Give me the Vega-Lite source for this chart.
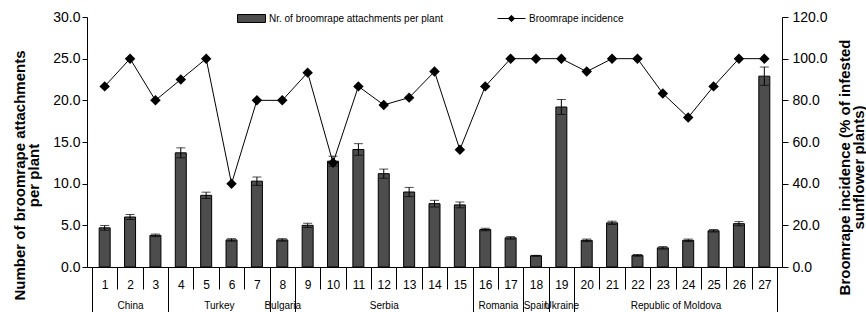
{
  "$schema": "https://vega.github.io/schema/vega-lite/v6.json",
  "width": 695,
  "height": 250,
  "autosize": {"type": "none"},
  "padding": {"left": 87, "top": 17, "right": 84, "bottom": 45},
  "background": "white",
  "config": {
    "view": {"stroke": null},
    "axis": {"grid": false, "domainColor": "black", "tickColor": "black", "labelColor": "black", "titleColor": "black", "labelFont": "Liberation Sans, Arial, sans-serif"},
    "legend": {"labelFont": "Liberation Sans, Arial, sans-serif", "labelColor": "black", "labelLimit": 0}
  },
  "data": {
    "values": [
      {"id": 1, "group": "China", "bar": 4.7, "err": 0.28, "inc": 86.7},
      {"id": 2, "group": "China", "bar": 6.0, "err": 0.3, "inc": 100},
      {"id": 3, "group": "China", "bar": 3.8, "err": 0.15, "inc": 80},
      {"id": 4, "group": "Turkey", "bar": 13.7, "err": 0.6, "inc": 90},
      {"id": 5, "group": "Turkey", "bar": 8.6, "err": 0.38, "inc": 100},
      {"id": 6, "group": "Turkey", "bar": 3.25, "err": 0.15, "inc": 40},
      {"id": 7, "group": "Turkey", "bar": 10.3, "err": 0.5, "inc": 80},
      {"id": 8, "group": "Bulgaria", "bar": 3.25, "err": 0.15, "inc": 80},
      {"id": 9, "group": "Serbia", "bar": 5.0, "err": 0.25, "inc": 93.3},
      {"id": 10, "group": "Serbia", "bar": 12.7, "err": 0.6, "inc": 50},
      {"id": 11, "group": "Serbia", "bar": 14.1, "err": 0.7, "inc": 86.7},
      {"id": 12, "group": "Serbia", "bar": 11.2, "err": 0.55, "inc": 77.8},
      {"id": 13, "group": "Serbia", "bar": 9.0, "err": 0.55, "inc": 81.3},
      {"id": 14, "group": "Serbia", "bar": 7.6, "err": 0.4, "inc": 93.8},
      {"id": 15, "group": "Serbia", "bar": 7.45, "err": 0.35, "inc": 56.3},
      {"id": 16, "group": "Romania", "bar": 4.5, "err": 0.15, "inc": 86.7},
      {"id": 17, "group": "Romania", "bar": 3.5, "err": 0.15, "inc": 100},
      {"id": 18, "group": "Spain", "bar": 1.35, "err": 0.05, "inc": 100},
      {"id": 19, "group": "Ukraine", "bar": 19.2, "err": 0.9, "inc": 100},
      {"id": 20, "group": "Republic of Moldova", "bar": 3.2, "err": 0.15, "inc": 93.8},
      {"id": 21, "group": "Republic of Moldova", "bar": 5.3, "err": 0.2, "inc": 100},
      {"id": 22, "group": "Republic of Moldova", "bar": 1.4, "err": 0.1, "inc": 100},
      {"id": 23, "group": "Republic of Moldova", "bar": 2.3, "err": 0.15, "inc": 83.3},
      {"id": 24, "group": "Republic of Moldova", "bar": 3.2, "err": 0.15, "inc": 71.8},
      {"id": 25, "group": "Republic of Moldova", "bar": 4.35, "err": 0.15, "inc": 86.7},
      {"id": 26, "group": "Republic of Moldova", "bar": 5.2, "err": 0.25, "inc": 100},
      {"id": 27, "group": "Republic of Moldova", "bar": 22.9, "err": 1.1, "inc": 100}
    ]
  },
  "layer": [
    {
      "mark": {"type": "bar", "size": 11, "stroke": "black", "strokeWidth": 1},
      "encoding": {
        "x": {"field": "id", "type": "quantitative",
          "scale": {"domain": [0.5, 27.5], "nice": false, "zero": false},
          "axis": {"orient": "bottom", "title": null, "values": [1,2,3,4,5,6,7,8,9,10,11,12,13,14,15,16,17,18,19,20,21,22,23,24,25,26,27], "format": "d", "ticks": false, "tickSize": 0, "domain": true, "labelPadding": 17, "labelBaseline": "middle", "labelFontSize": 12, "labelOverlap": false, "labelFlush": false}},
        "y": {"field": "bar", "type": "quantitative",
          "scale": {"domain": [0, 30], "nice": false},
          "axis": {"orient": "left", "values": [0,5,10,15,20,25,30], "format": ".1f", "tickSize": 5, "labelPadding": 2, "labelFontSize": 14,
            "title": ["Number of broomrape attachments", "per plant"], "titleFont": "Liberation Sans, Arial, sans-serif", "titleFontWeight": "bold", "titleFontSize": 15, "titleLineHeight": 14, "titleAngle": 270, "titleBaseline": "top", "titleAlign": "center", "titleX": -75, "titleY": 158}},
        "fill": {"datum": "Nr. of broomrape attachments per plant", "type": "nominal",
          "scale": {"range": ["#4d4d4d"]},
          "legend": {"orient": "none", "legendX": 156, "legendY": -7, "title": null, "symbolType": "M-1.75,-0.5H1.75V0.5H-1.75Z", "symbolSize": 256, "symbolStrokeColor": "black", "symbolStrokeWidth": 1, "labelOffset": 9, "labelFontSize": 10}}
      }
    },
    {
      "mark": {"type": "errorbar", "ticks": true, "size": 9, "thickness": 1, "color": "black"},
      "encoding": {
        "x": {"field": "id", "type": "quantitative",
          "axis": {"orient": "bottom", "title": null, "values": [0.5,1.5,2.5,3.5,4.5,5.5,6.5,7.5,8.5,9.5,10.5,11.5,12.5,13.5,14.5,15.5,16.5,17.5,18.5,19.5,20.5,21.5,22.5,23.5,24.5,25.5,26.5,27.5], "labels": false, "ticks": true, "tickSize": 22, "domain": false}},
        "y": {"field": "bar", "type": "quantitative", "scale": {"domain": [0, 30], "nice": false}, "axis": null},
        "yError": {"field": "err"}
      }
    },
    {
      "mark": {"type": "line", "color": "black", "strokeWidth": 1},
      "encoding": {
        "x": {"field": "id", "type": "quantitative",
          "axis": {"orient": "bottom", "title": null, "values": [0.5, 3.5, 7.5, 8.5, 15.5, 17.5, 18.5, 19.5, 27.5], "labels": false, "ticks": true, "tickSize": 45, "domain": false}},
        "y": {"field": "inc", "type": "quantitative",
          "scale": {"domain": [0, 120], "nice": false},
          "axis": {"orient": "right", "values": [0,20,40,60,80,100,120], "format": ".1f", "tickSize": 6, "labelPadding": 4, "labelFontSize": 14,
            "title": ["Broomrape incidence (% of infested", "sunflower plants)"], "titleFont": "Liberation Sans, Arial, sans-serif", "titleFontWeight": "bold", "titleFontSize": 15, "titleLineHeight": 14, "titleAngle": 270, "titleBaseline": "top", "titleAlign": "center", "titleX": 55, "titleY": 150}},
        "stroke": {"datum": "Broomrape incidence", "type": "nominal",
          "scale": {"range": ["black"]},
          "legend": {"orient": "none", "legendX": 416, "legendY": -7, "title": null, "symbolType": "M-1.75,0H1.75M0,-0.4L0.4,0L0,0.4L-0.4,0Z", "symbolSize": 256, "symbolFillColor": "black", "symbolStrokeWidth": 1, "labelOffset": 9, "labelFontSize": 10,
            "encode": {"symbols": {"update": {"fill": {"value": "black"}}}}}}
      }
    },
    {
      "mark": {"type": "point", "shape": "diamond", "filled": true, "color": "black", "size": 110, "opacity": 1},
      "encoding": {
        "x": {"field": "id", "type": "quantitative",
          "axis": {"orient": "bottom", "title": null, "values": [2, 5.5, 8, 12, 16.5, 18, 19, 23.5], "ticks": false, "tickSize": 0, "domain": false, "labelPadding": 38, "labelBaseline": "middle", "labelFontSize": 10, "labelOverlap": false, "labelFlush": false,
            "labelExpr": "datum.value == 2 ? 'China' : datum.value == 5.5 ? 'Turkey' : datum.value == 8 ? 'Bulgaria' : datum.value == 12 ? 'Serbia' : datum.value == 16.5 ? 'Romania' : datum.value == 18 ? 'Spain' : datum.value == 19 ? 'Ukraine' : 'Republic of Moldova'"}},
        "y": {"field": "inc", "type": "quantitative", "scale": {"domain": [0, 120], "nice": false}, "axis": null}
      }
    }
  ],
  "resolve": {"scale": {"y": "independent"}, "axis": {"x": "independent", "y": "independent"}}
}
